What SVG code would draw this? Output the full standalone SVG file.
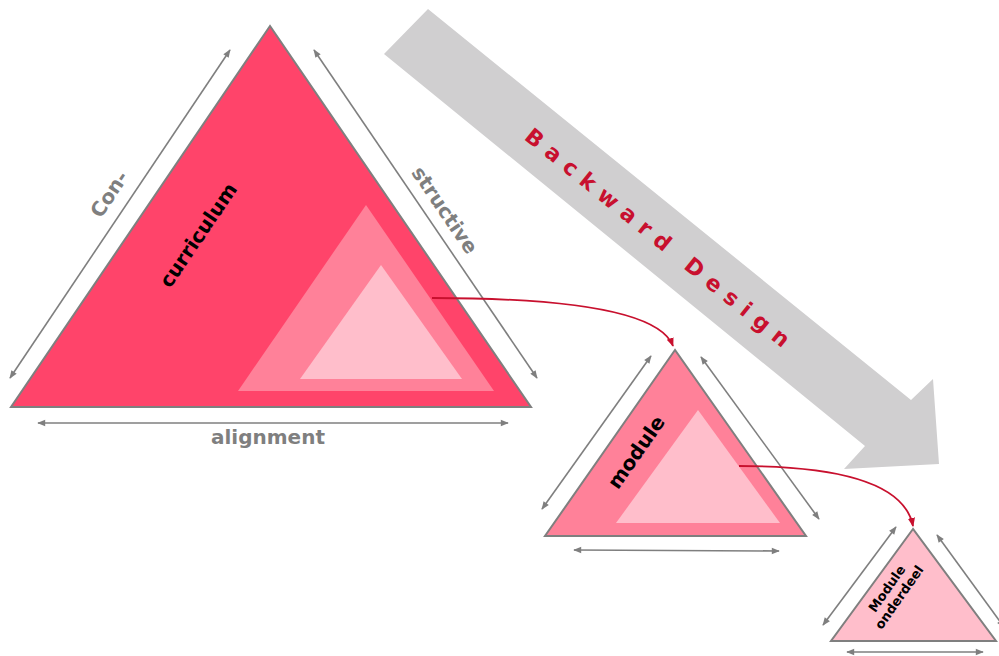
<svg xmlns="http://www.w3.org/2000/svg" width="999" height="656" viewBox="0 0 999 656">
<style>
.tri{stroke:#7f7f7f;stroke-width:2;stroke-linejoin:miter}
.c1{fill:#ff446a}
.c2{fill:#ff8199}
.c3{fill:#ffbecb}
.dim{fill:none;stroke:#7f7f7f;stroke-width:1.6;marker-start:url(#ga);marker-end:url(#ga)}
.lbl{font-family:"DejaVu Sans","Verdana",sans-serif;font-weight:bold;font-size:20px;text-anchor:middle}
.gray{fill:#7f7f7f}
.blk{fill:#000}
.link{fill:none;stroke:#c8102e;stroke-width:1.8;marker-end:url(#ra)}
</style>
<defs>
<marker id="ga" viewBox="0 0 10 10" refX="9" refY="5" markerWidth="9" markerHeight="8" markerUnits="userSpaceOnUse" orient="auto-start-reverse"><path d="M0,1 L10,5 L0,9 z" fill="#7f7f7f"/></marker>
<marker id="ra" viewBox="0 0 10 10" refX="9" refY="5" markerWidth="9" markerHeight="9" markerUnits="userSpaceOnUse" orient="auto"><path d="M0,1 L10,5 L0,9 z" fill="#c8102e"/></marker>
</defs>
<rect width="999" height="656" fill="#fff"/>

<g id="backward-design">
<polygon points="428,9 911,400 933,379 939,464 844,469 865,446 384,54" fill="#d0cfd0"/>
<text transform="translate(661,240) rotate(39)" dy="0.36em" style="font-family:'DejaVu Sans',Verdana,sans-serif;font-weight:bold;font-size:22px;letter-spacing:8.5px;text-anchor:middle;fill:#c8102e">Backward Design</text>
</g>

<g id="node-curriculum">
<polygon class="tri c1" points="270,26 11,407 531,407"/>
<polygon class="c2" points="366,205 238,391 494,391"/>
<polygon class="c3" points="381,265 300,379 462,379"/>
<path class="dim" d="M10,378 L230,50"/>
<path class="dim" d="M314,50 L537,378"/>
<path class="dim" d="M38,423 L508,423"/>
<text class="lbl gray" transform="translate(109,194) rotate(-55.8)" dy="0.36em">Con-</text>
<text class="lbl blk" transform="translate(198,235) rotate(-55.8)" dy="0.36em">curriculum</text>
<text class="lbl gray" transform="translate(445,210) rotate(55.8)" dy="0.36em">structive</text>
<text class="lbl gray" x="268" y="444">alignment</text>
</g>

<g id="node-module">
<polygon class="tri c2" points="675,350 545,536 806,536"/>
<polygon class="c3" points="698,410 616,523 780,523"/>
<path class="dim" d="M542,509 L651,356"/>
<path class="dim" d="M701,357 L819,519"/>
<path class="dim" d="M574,550 L779,551"/>
<text class="lbl blk" transform="translate(636,452) rotate(-55)" dy="0.36em">module</text>
</g>

<g id="node-onderdeel">
<polygon class="tri c3" points="913,529 831,641 996,641"/>
<path class="dim" d="M823,625 L896,527"/>
<path class="dim" d="M937,535 L1004,627"/>
<path class="dim" d="M847,652 L983,652"/>
<text transform="translate(893,593) rotate(-55)" style="font-family:'DejaVu Sans',Verdana,sans-serif;font-weight:bold;font-size:13px;text-anchor:middle;fill:#000">
<tspan x="0" y="-3">Module</tspan><tspan x="0" y="12">onderdeel</tspan></text>
</g>

<g id="connectors">
<path class="link" d="M432,298 C570,298 660,312 673,346"/>
<path class="link" d="M739,466 C845,466 905,485 913,526"/>
</g>
</svg>
